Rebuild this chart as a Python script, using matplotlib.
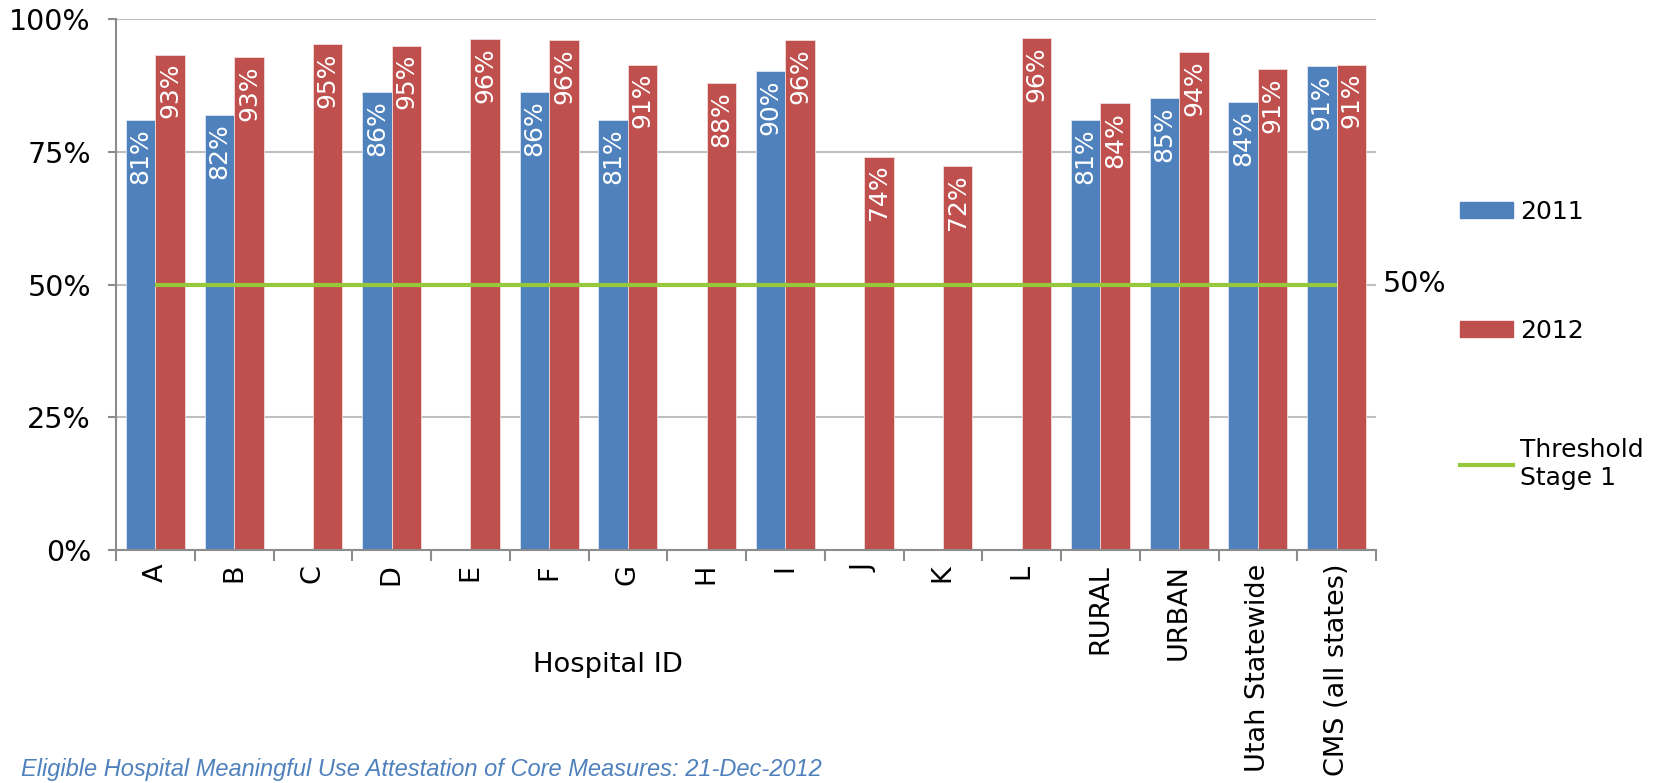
import matplotlib
matplotlib.use("Agg")
import matplotlib.pyplot as plt
import numpy as np
from matplotlib.patches import Patch
from matplotlib.lines import Line2D

categories = ["A", "B", "C", "D", "E", "F", "G", "H", "I", "J", "K", "L",
              "RURAL", "URBAN", "Utah Statewide", "CMS (all states)"]
values_2011 = [80.9, 82.0, None, 86.3, None, 86.3, 80.9, None, 90.2, None, None, None,
               80.9, 85.1, 84.4, 91.2]
values_2012 = [93.3, 92.8, 95.2, 95.0, 96.2, 96.0, 91.4, 88.0, 96.1, 74.1, 72.3, 96.5,
               84.1, 93.8, 90.6, 91.4]
threshold = 50
yticks = [0, 25, 50, 75, 100]
caption = "Eligible Hospital Meaningful Use Attestation of Core Measures: 21-Dec-2012"

BLUE = "#4F81BD"
RED = "#C0504D"
GREEN = "#96C83C"
GRID = "#BFBFBF"
AXC = "#8C8C8C"

plt.rcParams['font.family'] = ['DejaVu Sans']

W, H = 1659, 783
fig = plt.figure(figsize=(W / 100, H / 100), dpi=100)
ax = fig.add_axes([116 / W, 1 - 550 / H, (1376 - 116) / W, (550 - 19) / H])

x = np.arange(len(categories))
bw = 0.375

def label_bars(bars, vals):
    for b, v in zip(bars, vals):
        if v is None:
            continue
        ax.annotate(f"{round(v):d}%", (b.get_x() + b.get_width() / 2, b.get_height()),
                    xytext=(0, -6), textcoords="offset points",
                    ha="center", va="top", rotation=90, color="white", fontsize=18)

v11 = [np.nan if v is None else v for v in values_2011]
b1 = ax.bar(x - bw / 2, v11, bw, color=BLUE, edgecolor="#DCE6F2", linewidth=0.6, zorder=2)
b2 = ax.bar(x + bw / 2, values_2012, bw, color=RED, edgecolor="#F2DCDB", linewidth=0.6, zorder=2)
label_bars(b1, values_2011)
label_bars(b2, values_2012)

ax.plot([x[0], x[-1]], [threshold, threshold], color=GREEN, linewidth=3, zorder=3,
        solid_capstyle="butt")

ax.set_xlim(-0.5, len(categories) - 0.5)
ax.set_ylim(0, 100)
ax.set_yticks(yticks)
ax.set_yticklabels([f"{t}%" for t in yticks], fontsize=20.5)
ax.yaxis.grid(True, color=GRID, linewidth=1.5, zorder=0)
ax.set_axisbelow(True)

ax.set_xticks(x)
ax.set_xticklabels(categories, rotation=90, fontsize=19.5, va="top")
ax.set_xticks(np.arange(-0.5, len(categories)), minor=True)
ax.tick_params(axis="x", which="major", length=0, pad=10)
ax.tick_params(axis="x", which="minor", length=8, width=1.5, color=AXC, direction="out")
ax.tick_params(axis="y", length=6, width=1.5, color=AXC, pad=12)

for s in ["top", "right"]:
    ax.spines[s].set_visible(False)
for s in ["left", "bottom"]:
    ax.spines[s].set_color(AXC)
    ax.spines[s].set_linewidth(1.5)

# right-hand threshold label
ax.text(1.005, threshold, f"{threshold}%", transform=ax.get_yaxis_transform(),
        ha="left", va="center", fontsize=20.5)

fig.text(608 / W, 1 - 665 / H, "Hospital ID", ha="center", va="center", fontsize=19.7)
fig.text(21 / W, 2 / H, caption, ha="left", va="bottom", fontsize=17,
         style="italic", color="#4F81BD",
         family=["Liberation Sans Narrow", "Liberation Sans", "DejaVu Sans"])

handles = [Patch(facecolor=BLUE, edgecolor=BLUE),
           Patch(facecolor=RED, edgecolor=RED),
           Line2D([0], [0], color=GREEN, linewidth=3)]
labels = ["2011", "2012", "Threshold\nStage 1"]
fig.legend(handles, labels, loc="upper left",
           bbox_to_anchor=(1460 / W, 1 - 200 / H), frameon=False, fontsize=18,
           handlelength=2.1, handleheight=0.6, handletextpad=0.3,
           labelspacing=3.8, borderpad=0, borderaxespad=0)

fig.savefig("out.png", dpi=100)
